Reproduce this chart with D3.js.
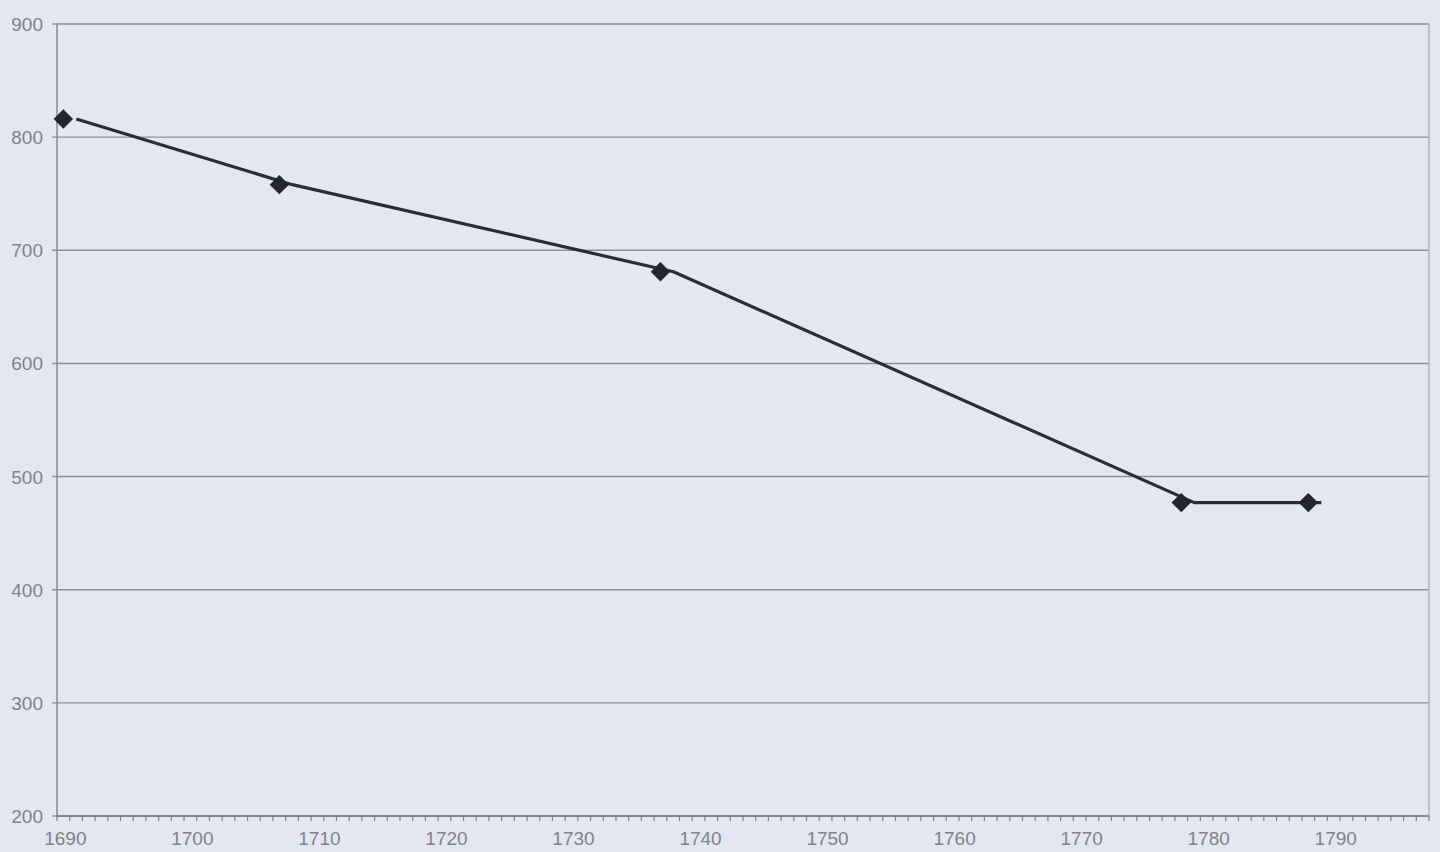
<!DOCTYPE html>
<html>
<head>
<meta charset="utf-8">
<script src="https://cdn.jsdelivr.net/npm/d3@7"></script>
<style>
  html, body { margin: 0; padding: 0; background: #e4e7f0; }
  svg { display: block; }
  .tickLabel { font-family: "Liberation Sans", Arial, sans-serif; font-size: 19px; fill: #808289; }
</style>
</head>
<body>
<svg id="chart" width="1440" height="852"></svg>
<script>
// data
var years = [1690, 1707, 1737, 1778, 1788];
var values = [816, 758, 681, 477, 477];
var yTicks = [200, 300, 400, 500, 600, 700, 800, 900];
var xLabels = [1690, 1700, 1710, 1720, 1730, 1740, 1750, 1760, 1770, 1780, 1790];
var firstYear = 1690, lastYear = 1797;

var svg = d3.select('#chart');

var plotLeft = 57;
var plotRight = 1429;
var plotTop = 24;
var plotBottom = 816;

var allYears = d3.range(firstYear, lastYear + 1);

var x = d3.scaleBand()
	.domain(allYears)
	.range([plotLeft, plotRight]);

var y = d3.scaleLinear()
	.domain([200, 900])
	.range([plotBottom, plotTop]);

// gridlines
svg.append('g')
	.attr('class', 'grid')
	.selectAll('line')
	.data(yTicks)
	.enter()
	.append('line')
	.attr('x1', plotLeft - 5)
	.attr('x2', plotRight)
	.attr('y1', function(d) { return y(d); })
	.attr('y2', function(d) { return y(d); })
	.attr('stroke', '#8e9096')
	.attr('stroke-width', 1.4);

// y axis line and right border
svg.append('line')
	.attr('x1', plotLeft).attr('x2', plotLeft)
	.attr('y1', y(900)).attr('y2', y(200))
	.attr('stroke', '#8e9096').attr('stroke-width', 1.6);
svg.append('line')
	.attr('x1', plotRight).attr('x2', plotRight)
	.attr('y1', y(900)).attr('y2', y(200))
	.attr('stroke', '#a4a6ac').attr('stroke-width', 1.2);

// y labels
svg.append('g')
	.selectAll('text')
	.data(yTicks)
	.enter()
	.append('text')
	.attr('class', 'tickLabel')
	.attr('x', plotLeft - 14)
	.attr('y', function(d) { return y(d) + 7; })
	.attr('text-anchor', 'end')
	.text(function(d) { return d; });

// x axis: a tick at every category boundary
svg.append('line')
	.attr('x1', plotLeft).attr('x2', plotRight)
	.attr('y1', plotBottom).attr('y2', plotBottom)
	.attr('stroke', '#7e8087').attr('stroke-width', 1.6);

svg.append('g')
	.selectAll('line')
	.data(allYears.concat([lastYear + 1]))
	.enter()
	.append('line')
	.attr('x1', function(d) { return d > lastYear ? plotRight : x(d); })
	.attr('x2', function(d) { return d > lastYear ? plotRight : x(d); })
	.attr('y1', plotBottom)
	.attr('y2', plotBottom + 5)
	.attr('stroke', '#7e8087')
	.attr('stroke-width', 1.2);

svg.append('g')
	.selectAll('text')
	.data(xLabels)
	.enter()
	.append('text')
	.attr('class', 'tickLabel')
	.attr('x', function(d) { return x(d) + x.bandwidth() / 2 + 2; })
	.attr('y', plotBottom + 29)
	.attr('text-anchor', 'middle')
	.text(function(d) { return d; });

// series
var cx = function(d, i) { return x(years[i]) + x.bandwidth() / 2; };
var cy = function(d, i) { return y(values[i]); };

var line = d3.line()
	.x(cx)
	.y(cy);

// the scanned line sits a little right of its markers
svg.append('path')
	.datum(values)
	.attr('d', line)
	.attr('transform', 'translate(13,0)')
	.attr('fill', 'none')
	.attr('stroke', '#2b2c38')
	.attr('stroke-width', 3.2)
	.attr('stroke-linejoin', 'round');

svg.append('g')
	.selectAll('path')
	.data(values)
	.enter()
	.append('path')
	.attr('d', d3.symbol().type(d3.symbolDiamond2).size(240))
	.attr('transform', function(d, i) { return 'translate(' + cx(d, i) + ',' + cy(d, i) + ')'; })
	.attr('fill', '#24252f');
</script>
</body>
</html>
